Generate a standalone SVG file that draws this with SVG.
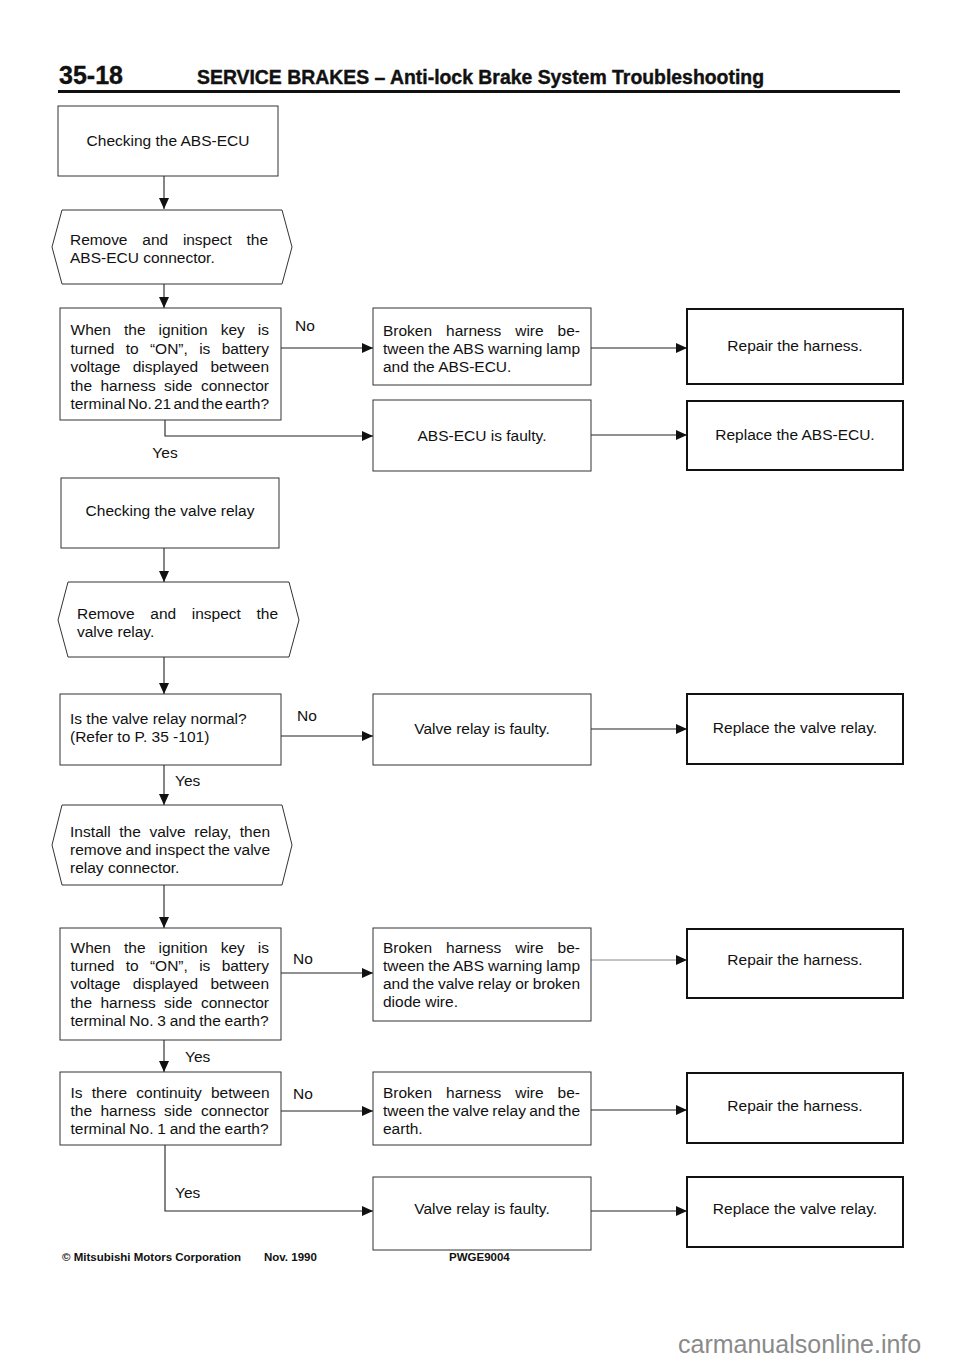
<svg xmlns="http://www.w3.org/2000/svg" width="960" height="1358" viewBox="0 0 960 1358">
<style>
text{font-family:"Liberation Sans",Arial,Helvetica,sans-serif;fill:#111;}
.t{font-size:15.5px;}
.c{text-anchor:middle;}
.box{fill:none;stroke:#333;stroke-width:1;}
.res{fill:none;stroke:#111;stroke-width:2;}
.ln{fill:none;stroke:#222;stroke-width:1.1;}
.hdr{font-weight:bold;stroke:#111;stroke-width:0.4;}
.ft{font-weight:bold;font-size:11.5px;}
</style>
<defs>
<marker id="ah" markerUnits="userSpaceOnUse" markerWidth="12" markerHeight="10" refX="11" refY="5" orient="auto">
<path d="M0,0 L11,5 L0,10 Z" fill="#111"/>
</marker>
</defs>
<rect width="960" height="1358" fill="#fff"/>

<g id="header">
<text class="hdr" x="59" y="84" font-size="25">35-18</text>
<text class="hdr" x="197" y="84" font-size="19.5" textLength="567" lengthAdjust="spacingAndGlyphs">SERVICE BRAKES – Anti-lock Brake System Troubleshooting</text>
<line x1="58" y1="91.5" x2="900" y2="91.5" stroke="#111" stroke-width="3"/>
</g>

<g id="connectors">
<line class="ln" x1="164" y1="176" x2="164" y2="209" marker-end="url(#ah)"/>
<line class="ln" x1="164" y1="284" x2="164" y2="308" marker-end="url(#ah)"/>
<line class="ln" x1="281" y1="348" x2="373" y2="348" marker-end="url(#ah)"/>
<polyline class="ln" points="165,420 165,436 373,436" marker-end="url(#ah)"/>
<line class="ln" x1="591" y1="348" x2="687" y2="348" marker-end="url(#ah)"/>
<line class="ln" x1="591" y1="435" x2="687" y2="435" marker-end="url(#ah)"/>
<line class="ln" x1="164" y1="548" x2="164" y2="582" marker-end="url(#ah)"/>
<line class="ln" x1="164" y1="657" x2="164" y2="694" marker-end="url(#ah)"/>
<line class="ln" x1="281" y1="736" x2="373" y2="736" marker-end="url(#ah)"/>
<line class="ln" x1="591" y1="729" x2="687" y2="729" marker-end="url(#ah)"/>
<line class="ln" x1="164" y1="765" x2="164" y2="805" marker-end="url(#ah)"/>
<line class="ln" x1="164" y1="885" x2="164" y2="928" marker-end="url(#ah)"/>
<line class="ln" x1="281" y1="973" x2="373" y2="973" marker-end="url(#ah)"/>
<line x1="591" y1="960" x2="687" y2="960" stroke="#888" stroke-width="1" marker-end="url(#ah)"/>
<line class="ln" x1="164" y1="1040" x2="164" y2="1072" marker-end="url(#ah)"/>
<line class="ln" x1="281" y1="1111" x2="373" y2="1111" marker-end="url(#ah)"/>
<line class="ln" x1="591" y1="1110" x2="687" y2="1110" marker-end="url(#ah)"/>
<polyline class="ln" points="165,1145 165,1211 373,1211" marker-end="url(#ah)"/>
<line class="ln" x1="591" y1="1211" x2="687" y2="1211" marker-end="url(#ah)"/>
<text class="t" x="295" y="331">No</text>
<text class="t c" x="165" y="458">Yes</text>
<text class="t" x="297" y="721">No</text>
<text class="t" x="175" y="786">Yes</text>
<text class="t" x="293" y="964">No</text>
<text class="t" x="185" y="1062">Yes</text>
<text class="t" x="293" y="1099">No</text>
<text class="t" x="175" y="1198">Yes</text>
</g>

<g id="n1">
<rect class="box" x="58" y="106" width="220" height="70"/>
<text class="t c" x="168" y="146">Checking the ABS-ECU</text>
</g>
<g id="n2">
<polygon class="box" points="62,210 282,210 292,247 282,284 62,284 52,247"/>
<text class="t" x="70" y="245" word-spacing="10.6" textLength="198">Remove and inspect the</text>
<text class="t" x="70" y="263">ABS-ECU connector.</text>
</g>
<g id="n3">
<rect class="box" x="60" y="308" width="221" height="112"/>
<text class="t" x="70.5" y="335" word-spacing="8.7" textLength="198.5">When the ignition key is</text>
<text class="t" x="70.5" y="353.5" word-spacing="7" textLength="198.5">turned to “ON”, is battery</text>
<text class="t" x="70.5" y="372" word-spacing="7.9" textLength="198.5">voltage displayed between</text>
<text class="t" x="70.5" y="390.5" word-spacing="4.1" textLength="198.5">the harness side connector</text>
<text class="t" x="70.5" y="409" word-spacing="-2" textLength="198.5">terminal No. 21 and the earth?</text>
</g>
<g id="n4">
<rect class="box" x="373" y="308" width="218" height="77"/>
<text class="t" x="383" y="336" word-spacing="9.7" textLength="197">Broken harness wire be-</text>
<text class="t" x="383" y="354" word-spacing="-0.5" textLength="197">tween the ABS warning lamp</text>
<text class="t" x="383" y="372">and the ABS-ECU.</text>
</g>
<g id="n5">
<rect class="box" x="373" y="400" width="218" height="71"/>
<text class="t c" x="482" y="441">ABS-ECU is faulty.</text>
</g>
<g id="n6">
<rect class="res" x="687" y="309" width="216" height="75"/>
<text class="t c" x="795" y="351">Repair the harness.</text>
</g>
<g id="n7">
<rect class="res" x="687" y="401" width="216" height="69"/>
<text class="t c" x="795" y="440">Replace the ABS-ECU.</text>
</g>
<g id="n8">
<rect class="box" x="61" y="478" width="218" height="70"/>
<text class="t c" x="170" y="516">Checking the valve relay</text>
</g>
<g id="n9">
<polygon class="box" points="68,582 289,582 299,620 289,657 68,657 58,620"/>
<text class="t" x="77" y="619" word-spacing="11.3" textLength="201">Remove and inspect the</text>
<text class="t" x="77" y="637">valve relay.</text>
</g>
<g id="n10">
<rect class="box" x="60" y="694" width="221" height="71"/>
<text class="t" x="70" y="724">Is the valve relay normal?</text>
<text class="t" x="70" y="742">(Refer to P. 35 -101)</text>
</g>
<g id="n11">
<rect class="box" x="373" y="694" width="218" height="71"/>
<text class="t c" x="482" y="734">Valve relay is faulty.</text>
</g>
<g id="n12">
<rect class="res" x="687" y="694" width="216" height="70"/>
<text class="t c" x="795" y="733">Replace the valve relay.</text>
</g>
<g id="n13">
<polygon class="box" points="62,805 282,805 292,845 282,885 62,885 52,845"/>
<text class="t" x="70" y="837" word-spacing="4.1" textLength="200">Install the valve relay, then</text>
<text class="t" x="70" y="855" word-spacing="-0.5" textLength="200">remove and inspect the valve</text>
<text class="t" x="70" y="873">relay connector.</text>
</g>
<g id="n14">
<rect class="box" x="60" y="928" width="221" height="112"/>
<text class="t" x="70.5" y="953" word-spacing="8.7" textLength="198.5">When the ignition key is</text>
<text class="t" x="70.5" y="971" word-spacing="7" textLength="198.5">turned to “ON”, is battery</text>
<text class="t" x="70.5" y="989" word-spacing="7.9" textLength="198.5">voltage displayed between</text>
<text class="t" x="70.5" y="1007.5" word-spacing="4.1" textLength="198.5">the harness side connector</text>
<text class="t" x="70.5" y="1025.5" word-spacing="-0.5" textLength="198">terminal No. 3 and the earth?</text>
</g>
<g id="n15">
<rect class="box" x="373" y="928" width="218" height="93"/>
<text class="t" x="383" y="953" word-spacing="9.7" textLength="197">Broken harness wire be-</text>
<text class="t" x="383" y="971" word-spacing="-0.5" textLength="197">tween the ABS warning lamp</text>
<text class="t" x="383" y="989" word-spacing="-0.5" textLength="197">and the valve relay or broken</text>
<text class="t" x="383" y="1007">diode wire.</text>
</g>
<g id="n16">
<rect class="res" x="687" y="929" width="216" height="69"/>
<text class="t c" x="795" y="965">Repair the harness.</text>
</g>
<g id="n17">
<rect class="box" x="60" y="1072" width="221" height="73"/>
<text class="t" x="70.5" y="1098" word-spacing="4.9" textLength="199">Is there continuity between</text>
<text class="t" x="70.5" y="1116" word-spacing="4.1" textLength="198.5">the harness side connector</text>
<text class="t" x="70.5" y="1134" word-spacing="-0.5" textLength="198">terminal No. 1 and the earth?</text>
</g>
<g id="n18">
<rect class="box" x="373" y="1072" width="218" height="73"/>
<text class="t" x="383" y="1098" word-spacing="9.7" textLength="197">Broken harness wire be-</text>
<text class="t" x="383" y="1116" word-spacing="-1" textLength="197">tween the valve relay and the</text>
<text class="t" x="383" y="1134">earth.</text>
</g>
<g id="n19">
<rect class="res" x="687" y="1073" width="216" height="70"/>
<text class="t c" x="795" y="1111">Repair the harness.</text>
</g>
<g id="n20">
<rect class="box" x="373" y="1177" width="218" height="73"/>
<text class="t c" x="482" y="1214">Valve relay is faulty.</text>
</g>
<g id="n21">
<rect class="res" x="687" y="1177" width="216" height="70"/>
<text class="t c" x="795" y="1214">Replace the valve relay.</text>
</g>

<g id="footer">
<text class="ft" x="62" y="1261">© Mitsubishi Motors Corporation</text>
<text class="ft" x="264" y="1261">Nov. 1990</text>
<text class="ft" x="449" y="1261">PWGE9004</text>
<text x="678" y="1353" font-size="25" style="fill:#8a8a8a">carmanualsonline.info</text>
</g>
</svg>
